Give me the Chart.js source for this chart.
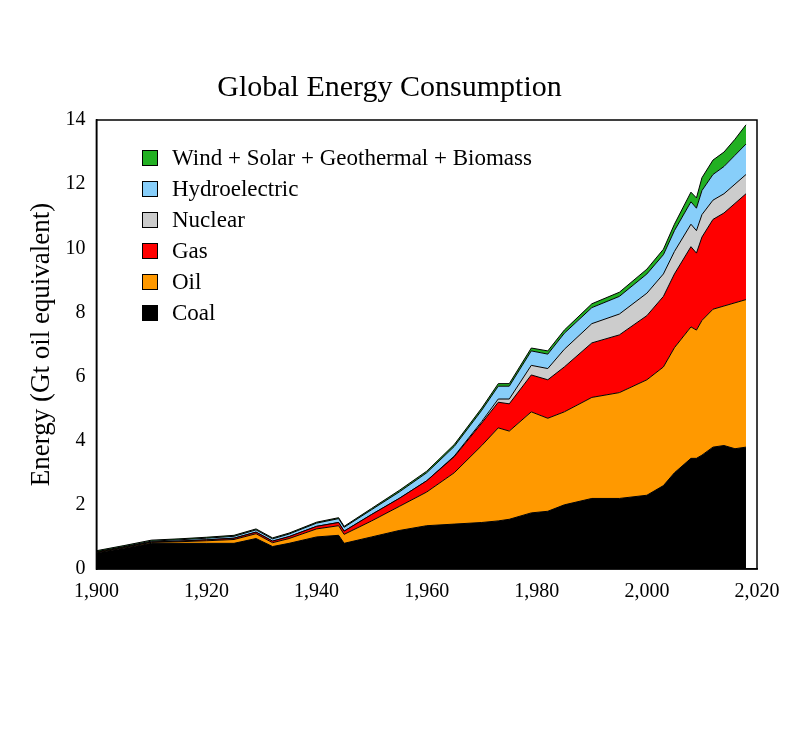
<!DOCTYPE html>
<html><head><meta charset="utf-8">
<script src="https://cdn.jsdelivr.net/npm/chart.js@4"></script>
<style>
body{margin:0;background:#fff;}
#wrap{position:relative;width:789px;height:737px;}
#legend{position:absolute;left:142px;top:142px;font-family:"Liberation Serif","DejaVu Serif",serif;font-size:23px;line-height:31px;color:#000;}
#legend div{display:flex;align-items:center;}
#legend span.b{display:inline-block;width:14px;height:14px;border:1px solid #000;margin-right:14px;}
</style></head>
<body><div id="wrap"><canvas id="c" width="789" height="737"></canvas>
<div id="legend"></div></div>
<script>
const years=[1900,1905,1910,1915,1920,1925,1929,1932,1935,1940,1944,1945,1950,1955,1960,1965,1970,1973,1975,1979,1982,1985,1990,1995,2000,2003,2005,2008,2009,2010,2012,2014,2016,2018];
const coal=[.5,.65,.8,.8,.8,.8,.95,.7,.8,1.0,1.05,.8,1.0,1.2,1.35,1.4,1.45,1.5,1.55,1.75,1.8,2.0,2.2,2.2,2.3,2.6,3.0,3.45,3.45,3.55,3.8,3.85,3.75,3.8];
const oil=[.02,.02,.03,.05,.08,.12,.15,.12,.15,.25,.3,.28,.5,.75,1.05,1.6,2.4,2.9,2.75,3.15,2.9,2.9,3.15,3.3,3.6,3.7,3.9,4.1,4.0,4.2,4.3,4.35,4.55,4.6];
const gas=[0,.01,.01,.02,.03,.04,.05,.05,.06,.08,.1,.1,.2,.25,.35,.5,.7,.8,.85,1.15,1.2,1.4,1.7,1.8,2.0,2.2,2.3,2.5,2.4,2.6,2.8,2.9,3.1,3.3];
const nuclear=[0,0,0,0,0,0,0,0,0,0,0,0,0,0,0,.02,.05,.1,.15,.3,.35,.55,.6,.65,.7,.7,.7,.7,.7,.7,.6,.6,.6,.6];
const hydro=[.02,.02,.03,.04,.05,.06,.07,.07,.08,.1,.12,.12,.15,.2,.25,.3,.35,.4,.4,.45,.45,.5,.5,.55,.6,.6,.65,.7,.7,.75,.8,.85,.9,.95];
const renew=[.03,.03,.03,.03,.03,.03,.03,.03,.03,.03,.03,.03,.04,.05,.05,.06,.07,.08,.08,.09,.1,.1,.12,.13,.15,.17,.2,.3,.32,.4,.45,.45,.5,.6];
const names=["Coal","Oil","Gas","Nuclear","Hydroelectric","Wind + Solar + Geothermal + Biomass"];
const colors=["#000000","#ff9900","#ff0000","#cccccc","#87cefa","#22b022"];
const series=[coal,oil,gas,nuclear,hydro,renew];
const F='"Liberation Serif","DejaVu Serif",serif';
const ds=series.map((s,i)=>({label:names[i],data:s.map((v,j)=>({x:years[j],y:v})),backgroundColor:colors[i],borderColor:'#000',borderWidth:1,pointRadius:0,tension:0,fill:i===0?'origin':'-1'}));
new Chart(document.getElementById('c'),{type:'line',data:{datasets:ds},
options:{responsive:false,animation:false,
layout:{padding:{left:22,right:32,top:70,bottom:130}},
plugins:{legend:{display:false},title:{display:true,text:'Global Energy Consumption',font:{family:F,size:30,weight:'normal'},color:'#000',padding:{bottom:14}}},
scales:{x:{type:'linear',min:1900,max:2020,grid:{display:false,drawTicks:true},border:{color:'#000',width:1.5},ticks:{stepSize:20,color:'#000',font:{family:F,size:20}}},
y:{stacked:true,min:0,max:14,grid:{display:false},border:{color:'#000',width:1.5},ticks:{stepSize:2,color:'#000',font:{family:F,size:20}},title:{display:true,text:'Energy (Gt oil equivalent)',color:'#000',font:{family:F,size:27}}}}},
plugins:[{id:'frame',afterDraw(c){const a=c.chartArea,x=c.ctx;x.save();x.strokeStyle='#000';x.lineWidth=1.5;x.strokeRect(a.left,a.top,a.right-a.left,a.bottom-a.top);x.restore();}}]});
const lg=document.getElementById('legend');
for(let i=5;i>=0;i--){const d=document.createElement('div');d.innerHTML='<span class="b" style="background:'+colors[i]+'"></span>'+names[i];lg.appendChild(d);}
</script></body></html>
